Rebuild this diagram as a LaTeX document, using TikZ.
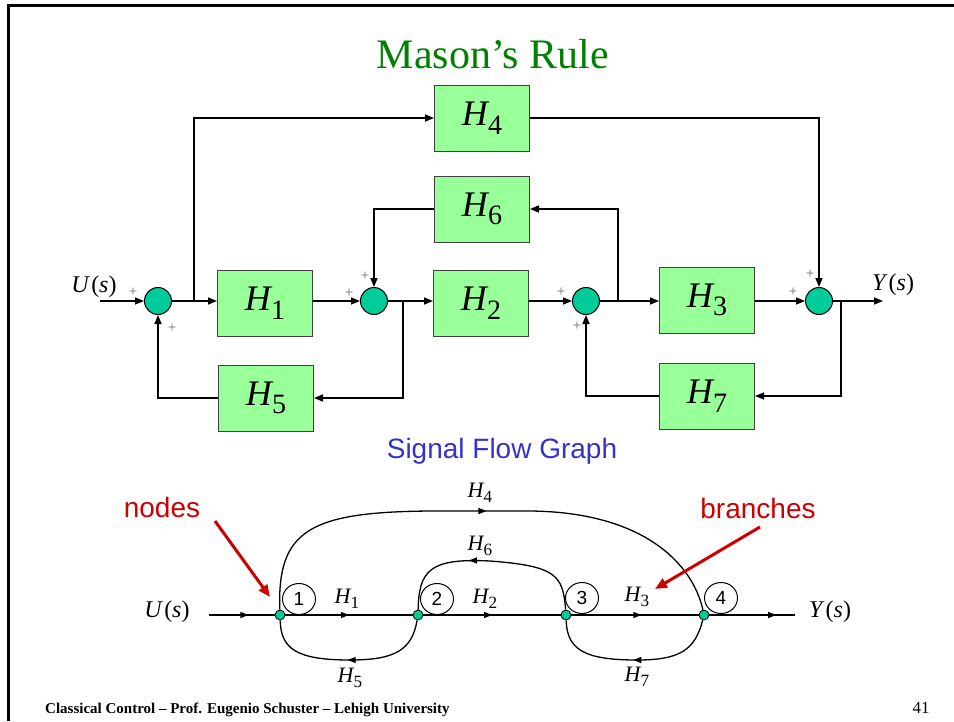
\documentclass[tikz,border=0pt]{standalone}
\usepackage{fontspec}
\setmainfont{Liberation Serif}
\newfontfamily\arialfont{Liberation Sans}
\usepackage{graphicx}
\usetikzlibrary{positioning,arrows.meta,decorations.markings,calc,shapes.geometric}
\definecolor{boxgreen}{RGB}{153,255,153}
\definecolor{sumgreen}{RGB}{0,204,153}
\definecolor{titlegreen}{RGB}{0,128,0}
\definecolor{sfgblue}{RGB}{51,51,204}
\definecolor{notered}{RGB}{204,0,0}
\newcommand{\Hsub}[1]{\textit{H}\kern-0.04em\raisebox{-0.24em}{\scalebox{0.78}{#1}}}
\newcommand{\fsz}[1]{\fontsize{#1}{#1}\selectfont}
\newcommand{\Us}{\textit{U}\kern0.05em(\textit{s})}
\newcommand{\Ys}{\textit{Y}\kern0.05em(\textit{s})}

\begin{document}
\begin{tikzpicture}[x=1pt,y=-1pt,
  blk/.style={draw=black!75, fill=boxgreen, line width=1pt, minimum width=95pt, minimum height=66pt, inner sep=0pt, font=\fsz{36}},
  sumj/.style={circle, draw=black, fill=sumgreen, line width=1pt, minimum size=27pt, inner sep=0pt},
  sig/.style={line width=1.5pt, -{Triangle[length=9pt,width=7pt]}},
  pls/.style={text=black!60, font=\fsz{15}, inner sep=0pt},
  vtx/.style={circle, draw=black, fill=sumgreen, line width=0.8pt, minimum size=10pt, inner sep=0pt},
  num/.style={ellipse, draw=black, line width=1pt, minimum width=33pt, minimum height=31pt, inner sep=0pt, font=\arialfont\fsz{19}},
  lbl/.style={font=\fsz{22}, inner sep=0pt},
  io/.style={font=\fsz{24}, inner sep=0pt},
  brn/.style={line width=1.3pt, postaction={decorate}, decoration={markings, mark=at position #1 with {\arrow{Triangle[length=8pt,width=6pt]}}}},
  callout/.style={notered, line width=3pt, -{Triangle[length=12pt,width=10pt]}}
]
\useasboundingbox (0,0) rectangle (954,721);
% slide frame
\draw[line width=3pt] (8,721) -- (8,5.5) -- (960,5.5);
\node[font=\fsz{42}, text=titlegreen, anchor=base] (title) at (493,68) {Mason’s Rule};

% block diagram
\node[sumj] (S1) at (158,301) {};
\node[sumj] (S2) at (374,301) {};
\node[sumj] (S3) at (586,301) {};
\node[sumj] (S4) at (819,301) {};
\node[blk] (H1) at (265,303) {\Hsub{1}};
\node[blk] (H2) at (481,303) {\Hsub{2}};
\node[blk] (H3) at (707,300) {\Hsub{3}};
\node[blk] (H4) at (482,118) {\Hsub{4}};
\node[blk] (H5) at (266,398) {\Hsub{5}};
\node[blk] (H6) at (482,209) {\Hsub{6}};
\node[blk] (H7) at (707,396) {\Hsub{7}};
\coordinate (in) at (100,301);
\coordinate (out) at (883,301);
\coordinate (b1) at (194,301);
\coordinate (b2) at (403,301);
\coordinate (b3) at (618,301);
\coordinate (b4) at (841,301);
\node[io] (U) at (94,287) {\Us};
\node[io] (Y) at (893,285) {\Ys};

\draw[sig] (in) -- (S1);
\draw[sig] (S1) -- (S1 -| H1.west);
\draw[sig] (b1) |- (H4.west);
\draw[sig] (H1.east |- S2) -- (S2);
\draw[sig] (S2) -- (S2 -| H2.west);
\draw[sig] (b2) |- (H5.east);
\draw[sig] (H5.west) -| (S1.south);
\draw[sig] (H6.west) -| (S2.north);
\draw[sig] (H2.east |- S3) -- (S3);
\draw[sig] (S3) -- (S3 -| H3.west);
\draw[sig] (b3) |- (H6.east);
\draw[sig] (H3.east |- S4) -- (S4);
\draw[sig] (H4.east) -| (S4.north);
\draw[sig] (S4) -- (out);
\draw[sig] (b4) |- (H7.east);
\draw[sig] (H7.west) -| (S3.south);

\node[pls] (p1) at (133,292) {+};
\node[pls] (p2) at (172,328) {+};
\node[pls] (p3) at (349,293) {+};
\node[pls] (p4) at (365,276) {+};
\node[pls] (p5) at (561,292) {+};
\node[pls] (p6) at (577,326) {+};
\node[pls] (p7) at (793,292) {+};
\node[pls] (p8) at (810,274) {+};

% signal flow graph
\node[font=\arialfont\fsz{28}, text=sfgblue, anchor=base] (sfg) at (502,458) {Signal Flow Graph};
\node[vtx] (n1) at (280,615) {};
\node[vtx] (n2) at (418,615) {};
\node[vtx] (n3) at (566,615) {};
\node[vtx] (n4) at (704,615) {};
\coordinate (uin) at (209,615);
\coordinate (yout) at (795,615);
\node[io] (Ug) at (167,612) {\Us};
\node[io] (Yg) at (830,612) {\Ys};
\node[num] (c1) at (299,599) {1};
\node[num] (c2) at (437,599) {2};
\node[num] (c3) at (582,598) {3};
\node[num] (c4) at (721,598) {4};

\draw[brn=0.6] (uin) -- (n1);
\draw[brn=0.5] (n1) -- (n2);
\draw[brn=0.5] (n2) -- (n3);
\draw[brn=0.55] (n3) -- (n4);
\draw[brn=0.78] (n4) -- (yout);
\draw[brn=0.51] (n1) .. controls (277,530) and (310,512) .. (430,511) -- (530,511) .. controls (645,512) and (693,565) .. (n4);
\draw[brn=0.6] (n3) .. controls (563,575) and (556,566) .. (490,561) .. controls (430,558) and (419,570) .. (n2);
\draw[brn=0.5] (n2) .. controls (412,650) and (395,660) .. (350,660) .. controls (295,660) and (281,648) .. (n1);
\draw[brn=0.5] (n4) .. controls (695,650) and (680,660) .. (637,660) .. controls (585,660) and (567,650) .. (n3);

\node[lbl] (L1) at (347,599) {\Hsub{1}};
\node[lbl] (L2) at (485,599) {\Hsub{2}};
\node[lbl] (L3) at (637,597) {\Hsub{3}};
\node[lbl] (L4) at (480,493) {\Hsub{4}};
\node[lbl] (L5) at (350,678) {\Hsub{5}};
\node[lbl] (L6) at (480,546) {\Hsub{6}};
\node[lbl] (L7) at (637,677) {\Hsub{7}};

% callouts
\node[font=\arialfont\fsz{28}, text=notered, anchor=base] (nodes) at (162,517) {nodes};
\node[font=\arialfont\fsz{28}, text=notered, anchor=base] (branches) at (758,518) {branches};
\coordinate (nodestail) at (215,521);
\coordinate (nodestip) at (270,597);
\coordinate (branchtail) at (760,527);
\coordinate (branchtip) at (655,589);
\draw[callout] (nodestail) -- (nodestip);
\draw[callout] (branchtail) -- (branchtip);

% footer
\node[font=\bfseries\fsz{15}, anchor=base west, inner sep=0pt] (foot) at (45,713) {Classical Control -- Prof. Eugenio Schuster -- Lehigh University};
\node[font=\fsz{17}, anchor=base, inner sep=0pt] (page) at (921,713) {41};
\end{tikzpicture}
\end{document}
